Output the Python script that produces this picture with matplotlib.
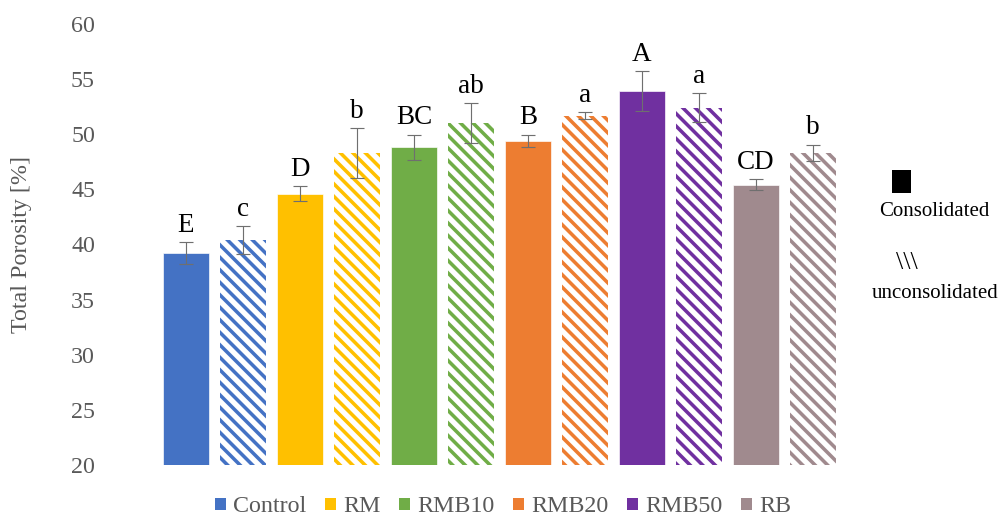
import matplotlib
matplotlib.use("Agg")
import matplotlib.pyplot as plt
from matplotlib.patches import Patch, Rectangle

# data
groups = ["Control", "RM", "RMB10", "RMB20", "RMB50", "RB"]
colors = ["#4472C4", "#FFC000", "#70AD47", "#ED7D31", "#7030A0", "#A08A8E"]
consolidated = [39.2, 44.6, 48.8, 49.4, 53.9, 45.4]
consolidated_err = [1.0, 0.67, 1.15, 0.55, 1.8, 0.5]
unconsolidated = [40.4, 48.3, 51.0, 51.7, 52.4, 48.3]
unconsolidated_err = [1.27, 2.25, 1.8, 0.3, 1.3, 0.75]
letters_cons = ["E", "D", "BC", "B", "A", "CD"]
letters_uncons = ["c", "b", "ab", "a", "a", "b"]

plt.rcParams["font.family"] = ["Liberation Serif", "DejaVu Serif"]
plt.rcParams["hatch.linewidth"] = 3.4

DPI = 75
fig = plt.figure(figsize=(1004 / DPI, 520 / DPI), dpi=DPI)
ax = fig.add_axes([157.5 / 1004, 55 / 520, 684 / 1004, 441 / 520])

grey = "#595959"
err_kw = dict(ecolor="#6f6f6f", elinewidth=1.1, capsize=7, capthick=1.1)

for i, g in enumerate(groups):
    xc = 2 * i
    xu = 2 * i + 1
    ax.bar(xc, consolidated[i], width=0.8, bottom=0, color=colors[i],
           edgecolor="white", linewidth=0.6, zorder=2)
    ax.bar(xu, unconsolidated[i], width=0.8, bottom=0, facecolor="white",
           edgecolor=colors[i], linewidth=0, hatch="\\\\", zorder=2)
    ax.errorbar(xc, consolidated[i], yerr=consolidated_err[i], fmt="none", zorder=3, **err_kw)
    ax.errorbar(xu, unconsolidated[i], yerr=unconsolidated_err[i], fmt="none", zorder=3, **err_kw)
    ax.annotate(letters_cons[i], (xc, consolidated[i] + consolidated_err[i]),
                xytext=(0, 10), textcoords="offset points", ha="center",
                va="baseline", fontsize=26, color="black")
    ax.annotate(letters_uncons[i], (xu, unconsolidated[i] + unconsolidated_err[i]),
                xytext=(0, 10), textcoords="offset points", ha="center",
                va="baseline", fontsize=26, color="black")

ax.set_ylim(20, 60)
ax.set_yticks(range(20, 61, 5))
ax.set_xlim(-0.5, 11.5)
ax.set_xticks([])
ax.tick_params(axis="y", length=0, pad=60, labelsize=23, labelcolor=grey)
for s in ax.spines.values():
    s.set_visible(False)

fig.text(22 / 1004, 0.529, "Total Porosity [%]", rotation=90, ha="center",
         va="center", fontsize=23, color=grey)

handles = [Patch(facecolor=c, edgecolor="none") for c in colors]
fig.legend(handles, groups, loc="center", bbox_to_anchor=(0.501, 0.025),
           ncol=6, frameon=False, fontsize=23, labelcolor=grey,
           handlelength=0.45, handleheight=0.45, handletextpad=0.3,
           columnspacing=0.78, borderpad=0)

# side key
fig.patches.append(Rectangle((892 / 1004, 327 / 520), 19 / 1004, 23 / 520,
                             transform=fig.transFigure, facecolor="black",
                             edgecolor="none"))
fig.text(0.931, 0.594, "Consolidated", ha="center", va="center", fontsize=20, color="black")
fig.text(0.903, 0.494, "\\\\\\", ha="center", va="center", fontsize=25, color="black")
fig.text(0.931, 0.436, "unconsolidated", ha="center", va="center", fontsize=20, color="black")

fig.savefig("out.png", dpi=DPI)
